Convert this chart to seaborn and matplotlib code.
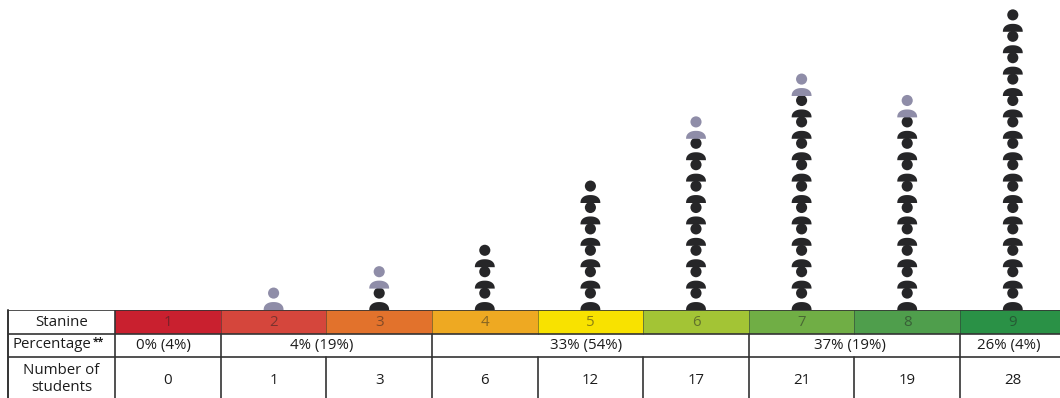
import numpy as np
import pandas as pd
import seaborn as sns
from matplotlib import pyplot as plt
from matplotlib.path import Path

# chart values
stanines = [1, 2, 3, 4, 5, 6, 7, 8, 9]
students = [0, 1, 3, 6, 12, 17, 21, 19, 28]
stanine_colors = ['#c9202f', '#d5463c', '#e2722c', '#eea922', '#f8e200',
                  '#a3c435', '#70ae45', '#4f9e4c', '#2a9146']
row_labels = ['Stanine', 'Percentage', 'Number of\nstudents']
pct_labels = ['0% (4%)', '4% (19%)', '33% (54%)', '37% (19%)', '26% (4%)']
pct_first = [1, 2, 4, 7, 9]
pct_last = [1, 3, 6, 8, 9]

DARK = '#262628'
GREY = '#8f8da8'
LINE = '#333333'
TEXT = '#1c1c1c'
FONT = 10.8

sns.set_theme(style='white')
plt.rcParams['font.family'] = ['Open Sans', 'DejaVu Sans']

# one icon is two students, an odd count ends with a grey icon
rows = []
for stanine, count in zip(stanines, students):
    for i in range(int(np.ceil(count / 2))):
        kind = 'half' if count % 2 == 1 and i == count // 2 else 'full'
        rows.append({'stanine': stanine, 'icon': i, 'kind': kind})
icons = pd.DataFrame(rows)
palette = {'full': DARK, 'half': GREY}

# flat dome shape for the shoulders
theta = np.linspace(0, np.pi, 40)
cos_t, sin_t = np.cos(theta), np.sin(theta)
dome = np.column_stack([np.sign(cos_t) * np.abs(cos_t) ** 0.9, 0.8 * sin_t ** 0.85])
shoulder = Path(np.vstack([dome, [[1, 0]]]), closed=True)

W, H = 1060, 398
TABLE_TOP = 310
x_lim = (1 - 168 / 105.6, 1 + 892 / 105.6)

fig = plt.figure(figsize=(W / 100, H / 100), dpi=100)
ax = fig.add_axes([0, 1 - TABLE_TOP / H, 1, TABLE_TOP / H])
tab = fig.add_axes([0, 0, 1, 1 - TABLE_TOP / H])

sns.scatterplot(data=icons, x='stanine', y=icons['icon'] + 0.79, hue='kind',
                palette=palette, s=64, linewidth=0, legend=False, ax=ax)
sns.scatterplot(data=icons, x='stanine', y='icon', hue='kind', palette=palette,
                marker=shoulder, s=205, linewidth=0, legend=False, ax=ax,
                clip_on=False)
ax.set_xlim(x_lim)
ax.set_ylim(0, TABLE_TOP / 21.4)
ax.axis('off')

# table under the icons, y in pixels below the icons
edges = [0, 24, 47, 88]
left = 1 + (8 - 168) / 105.6
tab.set_xlim(x_lim)
tab.set_ylim(88, 0)
tab.axis('off')

tab.bar(stanines, edges[1], width=1, bottom=0, color=stanine_colors, linewidth=0)
for stanine, color in zip(stanines, stanine_colors):
    tab.text(stanine, 12, str(stanine), ha='center', va='center', fontsize=FONT,
             color='#222222', alpha=0.5)

for y in edges[:3]:
    tab.plot([left, x_lim[1]], [y, y], color=LINE, lw=1.2, solid_capstyle='butt')
tab.plot([left, left], [0, 88], color=LINE, lw=1.4, clip_on=False)
tab.plot([0.5, 0.5], [0, 88], color=LINE, lw=1.2)
for s in stanines[:-1]:
    tab.plot([s + 0.5, s + 0.5], [0, edges[1]], color=LINE, lw=0.6, alpha=0.6)
    tab.plot([s + 0.5, s + 0.5], [edges[2], 88], color=LINE, lw=1.2)
for last in pct_last[:-1]:
    tab.plot([last + 0.5, last + 0.5], [edges[1], edges[2]], color=LINE, lw=1.2)

label_x = (left + 0.5) / 2
tab.text(label_x, 12, row_labels[0], ha='center', va='center', fontsize=FONT, color=TEXT)
tab.text(-0.47, 35, row_labels[1], ha='left', va='center', fontsize=FONT, color=TEXT)
tab.text(0.29, 32, '**', ha='left', va='center', fontsize=7.5, fontweight='bold', color=TEXT)
tab.text(label_x, 69, row_labels[2], ha='center', va='center', fontsize=FONT,
         color=TEXT, linespacing=1.1)

for first, last, label in zip(pct_first, pct_last, pct_labels):
    tab.text((first + last) / 2 - 0.04, 35, label, ha='center', va='center',
             fontsize=FONT, color=TEXT)
for stanine, count in zip(stanines, students):
    tab.text(stanine, 71, str(count), ha='center', va='center', fontsize=FONT,
             color=TEXT)

fig.savefig('out.png', dpi=100)
